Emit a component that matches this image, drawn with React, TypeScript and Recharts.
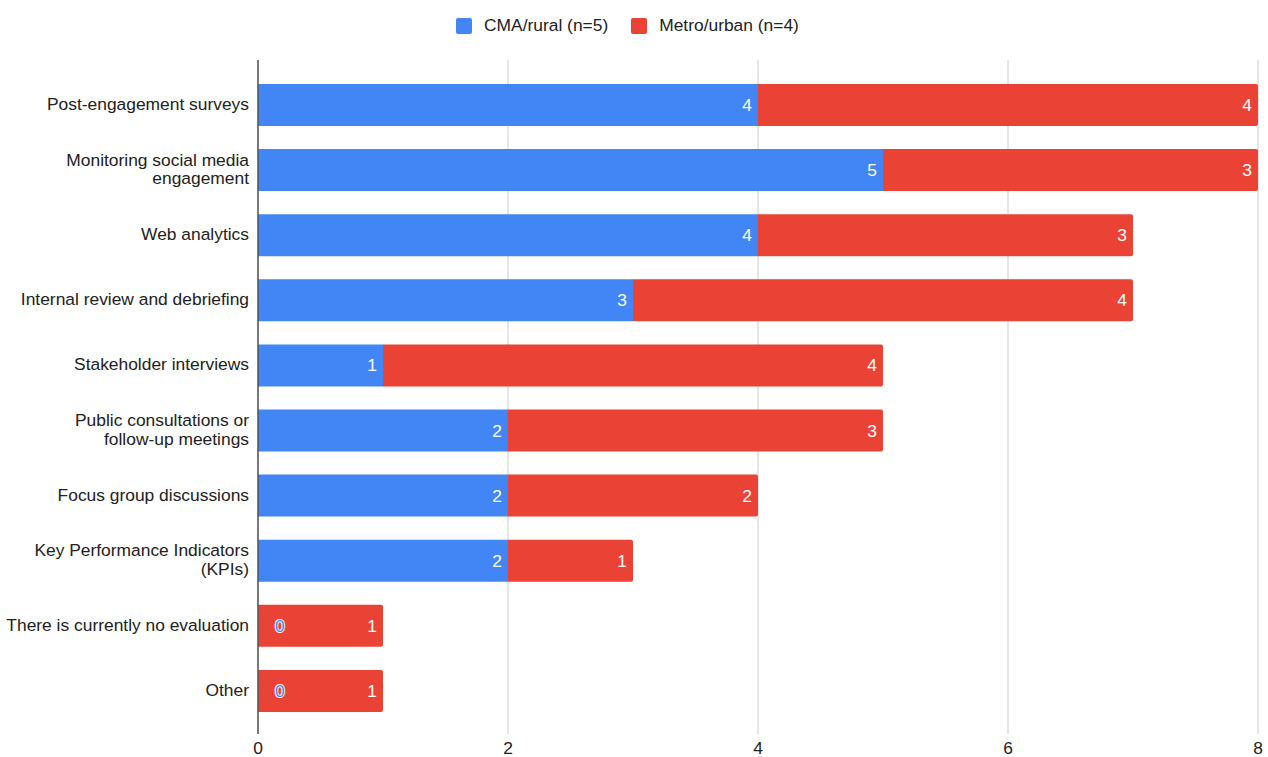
import React from "react";
import {
  BarChart,
  Bar,
  XAxis,
  YAxis,
  CartesianGrid,
  Legend,
  LabelList,
} from "recharts";

const categories: string[][] = [
  ["Post-engagement surveys"],
  ["Monitoring social media", "engagement"],
  ["Web analytics"],
  ["Internal review and debriefing"],
  ["Stakeholder interviews"],
  ["Public consultations or", "follow-up meetings"],
  ["Focus group discussions"],
  ["Key Performance Indicators", "(KPIs)"],
  ["There is currently no evaluation"],
  ["Other"],
];
const cmaRural = [4, 5, 4, 3, 1, 2, 2, 2, 0, 0];
const metroUrban = [4, 3, 3, 4, 4, 3, 2, 1, 1, 1];
const xTicks = [0, 2, 4, 6, 8];
const seriesNames = ["CMA/rural (n=5)", "Metro/urban (n=4)"];

const BLUE = "#4285F4";
const RED = "#EA4335";
const FONT = "'Liberation Sans', Arial, Helvetica, sans-serif";
const FS = 17.4;

const data = categories.map((lines, i) => ({
  name: lines.join("\n"),
  cma: cmaRural[i],
  metro: metroUrban[i],
}));

const YTick = (props: any) => {
  const { x, y, payload } = props;
  const lines: string[] = String(payload.value).split("\n");
  const base = lines.length === 1 ? [5.5] : [-4, 14.5];
  return (
    <g>
      {lines.map((l, i) => (
        <text
          key={i}
          x={x}
          y={y + base[i]}
          textAnchor="end"
          fontSize={FS}
          fontFamily={FONT}
          fill="#222"
        >
          {l}
        </text>
      ))}
    </g>
  );
};

const valueText = (x: number, cy: number, value: any) => (
  <text
    x={x}
    y={cy}
    dominantBaseline="central"
    textAnchor="end"
    fontSize={FS}
    fontFamily={FONT}
    fill="#fff"
  >
    {value}
  </text>
);

const blueLabel = (props: any) => {
  const { x, y, width, height, value } = props;
  if (Number(value) === 0) return null;
  return valueText(Number(x) + Number(width) - 6, Number(y) + Number(height) / 2, value);
};

const redLabel = (props: any) => {
  const { x, y, width, height, value, index } = props;
  const cy = Number(y) + Number(height) / 2;
  const blueVal = cmaRural[index];
  return (
    <g>
      {blueVal === 0 && (
        <text
          x={Number(x) + 17}
          y={cy}
          dominantBaseline="central"
          textAnchor="start"
          fontSize={FS}
          fontFamily={FONT}
          fill={BLUE}
          stroke="#fff"
          strokeWidth={2}
          paintOrder="stroke"
        >
          {blueVal}
        </text>
      )}
      {Number(value) !== 0 && valueText(Number(x) + Number(width) - 6, cy, value)}
    </g>
  );
};

const LegendContent = () => (
  <div
    style={{
      display: "flex",
      alignItems: "center",
      fontFamily: FONT,
      fontSize: FS,
      color: "#222",
      whiteSpace: "nowrap",
    }}
  >
    {seriesNames.map((n, i) => (
      <div
        key={n}
        style={{ display: "flex", alignItems: "center", marginRight: i === 0 ? 23 : 0 }}
      >
        <div
          style={{
            width: 16,
            height: 16,
            borderRadius: 2,
            background: i === 0 ? BLUE : RED,
            marginRight: 12,
          }}
        />
        <span>{n}</span>
      </div>
    ))}
  </div>
);

export default function App() {
  return (
    <div style={{ position: "absolute", left: 0, top: 0, background: "#fff" }}>
      <BarChart
        width={1268}
        height={757}
        layout="vertical"
        data={data}
        margin={{ top: 60, right: 10, bottom: 0, left: 0 }}
        barSize={42}
      >
        <CartesianGrid horizontal={false} vertical={true} stroke="#ccc" />
        <XAxis
          type="number"
          domain={[0, 8]}
          ticks={xTicks}
          axisLine={false}
          tickLine={false}
          tickSize={0}
          tickMargin={8}
          height={23}
          tick={{ fontSize: FS, fontFamily: FONT, fill: "#222" }}
          interval={0}
        />
        <YAxis
          type="category"
          dataKey="name"
          width={258}
          tickLine={false}
          tickSize={0}
          tickMargin={9}
          axisLine={{ stroke: "#555", strokeWidth: 1.5 }}
          tick={<YTick />}
          interval={0}
          padding={{ top: 12, bottom: 11 }}
        />
        <Legend
          verticalAlign="middle"
          align="center"
          layout="horizontal"
          wrapperStyle={{ top: 15, left: 456, width: 400, height: 18 }}
          content={<LegendContent />}
        />
        <Bar dataKey="cma" name={seriesNames[0]} stackId="a" fill={BLUE} isAnimationActive={false}>
          <LabelList dataKey="cma" content={blueLabel} />
        </Bar>
        <Bar
          dataKey="metro"
          name={seriesNames[1]}
          stackId="a"
          fill={RED}
          radius={[0, 2, 2, 0]}
          isAnimationActive={false}
        >
          <LabelList dataKey="metro" content={redLabel} />
        </Bar>
      </BarChart>
    </div>
  );
}
